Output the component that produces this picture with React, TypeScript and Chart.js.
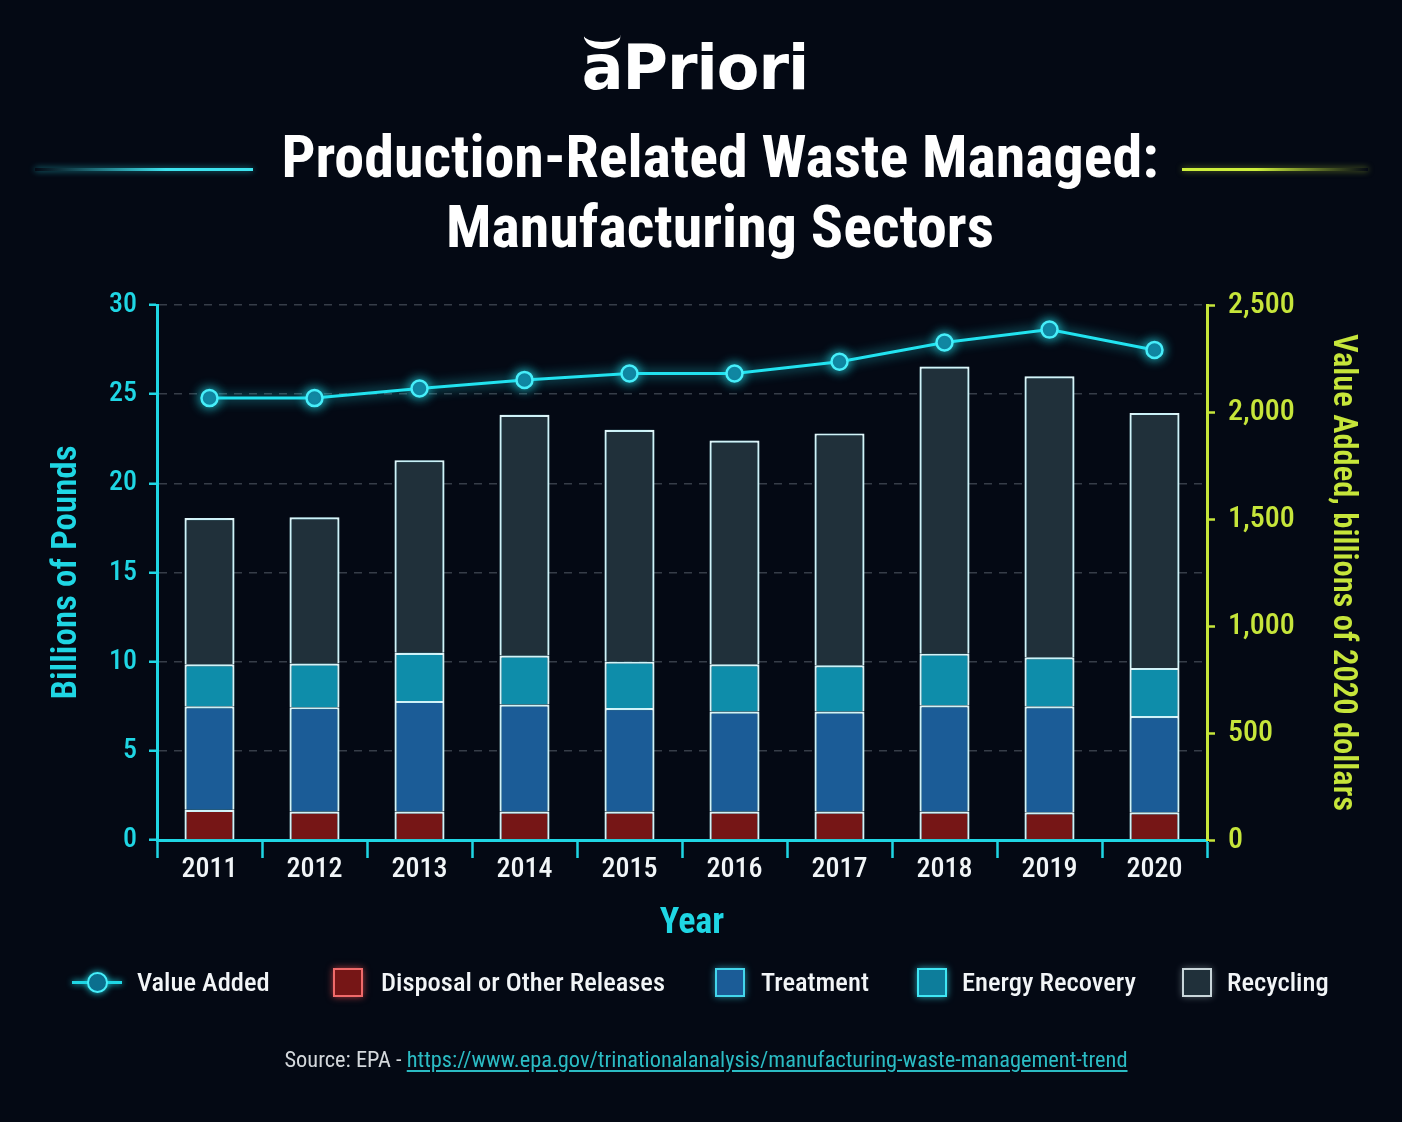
import React, { useEffect, useRef } from "react";
import { Chart, registerables } from "chart.js";

Chart.register(...registerables);

// Production-related waste managed by the manufacturing sectors (billions of pounds)
const years = ["2011", "2012", "2013", "2014", "2015", "2016", "2017", "2018", "2019", "2020"];
const disposal = [1.7, 1.6, 1.6, 1.6, 1.6, 1.6, 1.6, 1.6, 1.55, 1.55];
const treatment = [5.8, 5.85, 6.2, 6.0, 5.8, 5.6, 5.6, 5.95, 5.95, 5.4];
const energyRecovery = [2.35, 2.45, 2.7, 2.75, 2.6, 2.65, 2.6, 2.9, 2.75, 2.7];
const recycling = [8.2, 8.2, 10.8, 13.5, 13.0, 12.55, 13.0, 16.1, 15.75, 14.3];
// Value added, billions of 2020 dollars
const valueAdded = [2065, 2065, 2110, 2150, 2180, 2180, 2235, 2325, 2385, 2290];

const seriesNames = ["Value Added", "Disposal or Other Releases", "Treatment", "Energy Recovery", "Recycling"];

const CYAN = "#1fd6e4";
const LIME = "#c6e53a";
const BG = "#040914";
const COND = "'Roboto Condensed', 'Liberation Sans Narrow', 'Arial Narrow', 'DejaVu Sans Condensed', Roboto, sans-serif";

const COLORS = {
  disposal: "#761616",
  treatment: "#1b5c97",
  energy: "#0e8daa",
  recycling: "#20303a",
  barEdge: "#eef8fa",
};

const glowPlugin = {
  id: "glow",
  beforeDatasetDraw(chart: any, args: any) {
    const ctx = chart.ctx;
    ctx.save();
    const isLine = chart.data.datasets[args.index].type === "line";
    ctx.shadowColor = isLine ? "rgba(40,232,246,0.85)" : "rgba(70,220,240,0.5)";
    ctx.shadowBlur = isLine ? 12 : 9;
  },
  afterDatasetDraw(chart: any) {
    chart.ctx.restore();
  },
};

function WasteChart() {
  const ref = useRef<HTMLCanvasElement | null>(null);

  useEffect(() => {
    if (!ref.current) return;
    const bar = (label: string, data: number[], color: string) => ({
      type: "bar" as const,
      label,
      data,
      backgroundColor: color,
      borderColor: COLORS.barEdge,
      borderWidth: 2.2,
      yAxisID: "y",
      order: 1,
    });

    const chart = new Chart(ref.current, {
      type: "bar",
      data: {
        labels: years,
        datasets: [
          {
            type: "line",
            label: seriesNames[0],
            data: valueAdded,
            yAxisID: "y1",
            order: 0,
            borderColor: "#22e3f0",
            borderWidth: 3,
            pointRadius: 8,
            pointBackgroundColor: "#0b6f8e",
            pointBorderColor: "#46eefa",
            pointBorderWidth: 2.5,
            tension: 0,
          } as any,
          bar(seriesNames[1], disposal, COLORS.disposal),
          bar(seriesNames[2], treatment, COLORS.treatment),
          bar(seriesNames[3], energyRecovery, COLORS.energy),
          bar(seriesNames[4], recycling, COLORS.recycling),
        ],
      },
      options: {
        responsive: false,
        animation: false,
        devicePixelRatio: 1,
        layout: { padding: { top: 305, left: 0, right: 0, bottom: 183 } },
        plugins: { legend: { display: false }, tooltip: { enabled: false } },
        datasets: { bar: { barPercentage: 0.476, categoryPercentage: 1 } },
        scales: {
          x: {
            stacked: true,
            offset: true,
            grid: {
              offset: true,
              drawOnChartArea: false,
              drawTicks: true,
              tickLength: 18,
              tickWidth: 2.5,
              tickColor: (c: any) => (c.index >= years.length ? LIME : CYAN),
            },
            border: { color: CYAN, width: 3 },
            ticks: { color: "#f1f5f7", font: { family: COND, size: 28, weight: "500" }, padding: -5 },
            afterFit(s: any) {
              s.height = 99;
            },
          },
          y: {
            stacked: true,
            min: 0,
            max: 30,
            ticks: { stepSize: 5, color: CYAN, font: { family: COND, size: 28, weight: "500" }, padding: 12 },
            grid: {
              color: "rgba(130,140,150,0.4)",
              lineWidth: 1.5,
              tickColor: CYAN,
              tickLength: 8,
              tickWidth: 2.5,
            },
            border: { color: CYAN, width: 3, dash: [8, 7] },
            title: {
              display: true,
              text: "Billions of Pounds",
              color: CYAN,
              font: { family: COND, size: 35, weight: "600" },
              padding: { top: 46, bottom: 0 },
            },
            afterFit(s: any) {
              s.width = 157;
            },
          },
          y1: {
            position: "right",
            min: 0,
            max: 2500,
            ticks: { stepSize: 500, color: LIME, font: { family: COND, size: 30, weight: "500" }, padding: 13 },
            grid: { drawOnChartArea: false, tickColor: LIME, tickLength: 8, tickWidth: 2.5 },
            border: { color: LIME, width: 3 },
            title: {
              display: true,
              text: "Value Added, billions of 2020 dollars",
              color: LIME,
              font: { family: COND, size: 32.5, weight: "600" },
              padding: { top: 40, bottom: 0 },
            },
            afterFit(s: any) {
              s.width = 195;
            },
          },
        },
      } as any,
      plugins: [glowPlugin],
    });
    return () => chart.destroy();
  }, []);

  return (
    <canvas
      ref={ref}
      width={1402}
      height={1122}
      style={{ position: "absolute", left: 0, top: 0, width: 1402, height: 1122 }}
    />
  );
}

function LegendBox({ fill, edge, glow }: { fill: string; edge: string; glow: string }) {
  return (
    <span
      style={{
        display: "inline-block",
        boxSizing: "border-box",
        width: 30,
        height: 29,
        background: fill,
        border: `2px solid ${edge}`,
        boxShadow: `0 0 7px ${glow}`,
      }}
    />
  );
}

const legendText: React.CSSProperties = {
  position: "absolute",
  top: 966,
  fontFamily: COND,
  fontSize: 26.5,
  fontWeight: 500,
  color: "#f2f5f7",
  lineHeight: "32px",
  whiteSpace: "nowrap",
};

export default function App() {
  return (
    <div
      style={{
        position: "absolute",
        left: 0,
        top: 0,
        width: 1402,
        height: 1122,
        background: BG,
        overflow: "hidden",
      }}
    >
      {/* brand mark */}
      <div
        style={{
          position: "absolute",
          left: 695,
          top: 28,
          transform: "translateX(-50%)",
          fontFamily: "'DejaVu Sans', sans-serif",
          fontWeight: 700,
          fontSize: 62,
          letterSpacing: -1,
          color: "#ffffff",
          lineHeight: "80px",
          whiteSpace: "nowrap",
        }}
      >
        <span style={{ position: "relative" }}>
          a
          <span
            style={{
              position: "absolute",
              left: 2,
              top: 4,
              width: 37,
              height: 7,
              borderBottom: "7px solid #ffffff",
              borderRadius: "0 0 50% 50% / 0 0 100% 100%",
            }}
          />
        </span>
        Priori
      </div>

      {/* title rules */}
      <div
        style={{
          position: "absolute",
          left: 35,
          top: 168,
          width: 218,
          height: 3,
          background: "linear-gradient(to right, rgba(40,220,235,0), #3ee3ef 60%)",
          boxShadow: "0 0 6px rgba(40,220,235,0.6)",
        }}
      />
      <div
        style={{
          position: "absolute",
          left: 1182,
          top: 168,
          width: 186,
          height: 3,
          background: "linear-gradient(to right, #cdef3c 40%, rgba(200,236,60,0))",
          boxShadow: "0 0 6px rgba(200,236,60,0.5)",
        }}
      />

      {/* title */}
      <div
        style={{
          position: "absolute",
          left: 720,
          top: 122,
          transform: "translateX(-50%)",
          fontFamily: COND,
          fontWeight: 700,
          fontSize: 60,
          lineHeight: "70px",
          color: "#ffffff",
          textAlign: "center",
          whiteSpace: "nowrap",
        }}
      >
        <div>Production-Related Waste Managed:</div>
        <div>Manufacturing Sectors</div>
      </div>

      <WasteChart />

      {/* x-axis title */}
      <div
        style={{
          position: "absolute",
          left: 692,
          top: 900,
          transform: "translateX(-50%)",
          fontFamily: COND,
          fontWeight: 700,
          fontSize: 36,
          lineHeight: "42px",
          color: CYAN,
          whiteSpace: "nowrap",
        }}
      >
        Year
      </div>

      {/* legend */}
      <div style={{ position: "absolute", left: 72, top: 981, width: 50, height: 3, background: CYAN, boxShadow: `0 0 6px ${CYAN}` }} />
      <div
        style={{
          position: "absolute",
          left: 87,
          top: 972,
          width: 21,
          height: 21,
          boxSizing: "border-box",
          borderRadius: "50%",
          background: "#0b6f8e",
          border: "2.5px solid #46eefa",
          boxShadow: `0 0 7px ${CYAN}`,
        }}
      />
      <div style={{ ...legendText, left: 137 }}>{seriesNames[0]}</div>

      <div style={{ position: "absolute", left: 333, top: 968 }}>
        <LegendBox fill={COLORS.disposal} edge="#f06a6a" glow="rgba(240,80,80,0.7)" />
      </div>
      <div style={{ ...legendText, left: 381 }}>{seriesNames[1]}</div>

      <div style={{ position: "absolute", left: 715, top: 968 }}>
        <LegendBox fill={COLORS.treatment} edge="#43d6ec" glow="rgba(60,215,240,0.6)" />
      </div>
      <div style={{ ...legendText, left: 761 }}>{seriesNames[2]}</div>

      <div style={{ position: "absolute", left: 917, top: 968 }}>
        <LegendBox fill="#0d7d9b" edge="#3fe6f4" glow="rgba(60,225,245,0.7)" />
      </div>
      <div style={{ ...legendText, left: 962 }}>{seriesNames[3]}</div>

      <div style={{ position: "absolute", left: 1182, top: 968 }}>
        <LegendBox fill={COLORS.recycling} edge="#c9d6da" glow="rgba(200,220,225,0.4)" />
      </div>
      <div style={{ ...legendText, left: 1227 }}>{seriesNames[4]}</div>

      {/* source */}
      <div
        style={{
          position: "absolute",
          left: 706,
          top: 1045,
          transform: "translateX(-50%)",
          fontFamily: COND,
          fontSize: 22.4,
          color: "#d4d8dc",
          whiteSpace: "nowrap",
          lineHeight: "28px",
        }}
      >
        Source: EPA -{" "}
        <span style={{ color: "#2bbcc4", textDecoration: "underline", textUnderlineOffset: 3 }}>
          https://www.epa.gov/trinationalanalysis/manufacturing-waste-management-trend
        </span>
      </div>
    </div>
  );
}
